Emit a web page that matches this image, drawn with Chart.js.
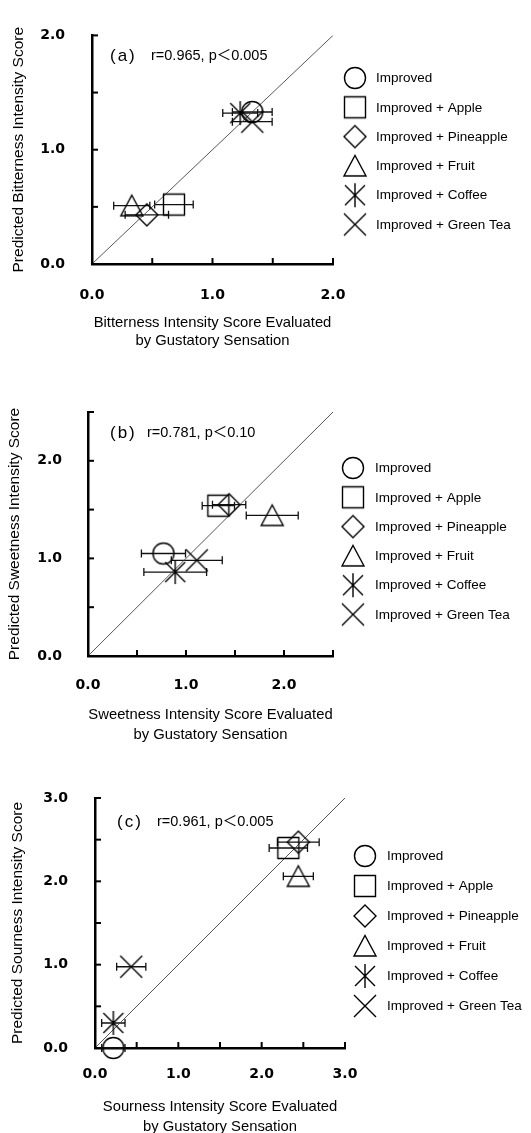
<!DOCTYPE html>
<html>
<head>
<meta charset="utf-8">
<script src="https://cdn.jsdelivr.net/npm/chart.js@4.4.1/dist/chart.umd.min.js"></script>
<style>
  body { margin: 0; background: #fff; width: 531px; height: 1133px; overflow: hidden; position: relative; }
  .panel { position: absolute; left: 0; width: 531px; }
</style>
</head>
<body>
<div class="panel" style="top:0"><canvas id="chartA" width="531" height="360"></canvas></div>
<div class="panel" style="top:365px"><canvas id="chartB" width="531" height="385"></canvas></div>
<div class="panel" style="top:755px"><canvas id="chartC" width="531" height="385"></canvas></div>
<script>
// series shared by all three panels
const seriesNames = ['Improved', 'Improved + Apple', 'Improved + Pineapple', 'Improved + Fruit', 'Improved + Coffee', 'Improved + Green Tea'];
const markerKinds = ['circle', 'square', 'diamond', 'triangle', 'asterisk', 'cross'];

// (a) bitterness: x = gustatory sensation, y = predicted, xErr = SD
const bitterX = [1.33, 0.68, 0.455, 0.33, 1.23, 1.33];
const bitterY = [1.33, 0.52, 0.43, 0.51, 1.32, 1.245];
const bitterErr = [0.165, 0.16, 0.18, 0.15, 0.145, 0.165];

// (b) sweetness
const sweetX = [0.77, 1.33, 1.44, 1.88, 0.89, 1.11];
const sweetY = [1.05, 1.54, 1.55, 1.44, 0.86, 0.98];
const sweetErr = [0.225, 0.165, 0.17, 0.265, 0.32, 0.26];

// (c) sourness
const sourX = [0.22, 2.32, 2.44, 2.44, 0.22, 0.435];
const sourY = [0.0, 2.4, 2.47, 2.06, 0.3, 0.975];
const sourErr = [0.14, 0.23, 0.25, 0.18, 0.14, 0.175];

const axisMax = [2, 2.5, 3];
const tickStep = 0.5;
const panelTags = ['(a)', '(b)', '(c)'];
const statTexts = ['r=0.965, p\uFF1C0.005', 'r=0.781, p\uFF1C0.10', 'r=0.961, p\uFF1C0.005'];
const yTitles = ['Predicted Bitterness Intensity Score', 'Predicted Sweetness Intensity Score', 'Predicted Sourness Intensity Score'];
const xTitles = [
  ['Bitterness Intensity Score Evaluated', 'by Gustatory Sensation'],
  ['Sweetness Intensity Score Evaluated', 'by Gustatory Sensation'],
  ['Sourness Intensity Score Evaluated', 'by Gustatory Sensation']
];

const FONT = "'Liberation Sans', 'Noto Sans CJK JP', sans-serif";
const TICK_FONT = "'DejaVu Sans', sans-serif";

// hollow black markers drawn once and reused for points and legend
function makeMarker(kind) {
  const s = 26, m = s / 2;
  const c = document.createElement('canvas');
  c.width = s; c.height = s;
  const g = c.getContext('2d');
  g.strokeStyle = '#000';
  g.lineWidth = 1.4;
  g.beginPath();
  if (kind === 'circle') {
    g.arc(m, m, 10.5, 0, Math.PI * 2);
  } else if (kind === 'square') {
    g.rect(m - 10.5, m - 10.5, 21, 21);
  } else if (kind === 'diamond') {
    g.moveTo(m, m - 11); g.lineTo(m + 11, m); g.lineTo(m, m + 11); g.lineTo(m - 11, m); g.closePath();
  } else if (kind === 'triangle') {
    g.moveTo(m, m - 10.5); g.lineTo(m + 11, m + 10); g.lineTo(m - 11, m + 10); g.closePath();
  } else if (kind === 'asterisk') {
    g.moveTo(m - 10, m - 10); g.lineTo(m + 10, m + 10);
    g.moveTo(m + 10, m - 10); g.lineTo(m - 10, m + 10);
    g.moveTo(m, m - 12); g.lineTo(m, m + 12);
  } else {
    g.moveTo(m - 11, m - 11); g.lineTo(m + 11, m + 11);
    g.moveTo(m + 11, m - 11); g.lineTo(m - 11, m + 11);
  }
  g.stroke();
  return c;
}
const markers = markerKinds.map(makeMarker);

// hand-tuned layout per panel (canvas-local pixels)
const layouts = [
  { area: { l: 92, r: 333, t: 22, b: 264 }, h: 360, yTitlePad: 10, xTitleLH: 18, xTitlePad: 10, xTickPad: 22.6, yTickPad: 27,
    legend: { mx: 355, tx: 376, y0: 78, gap: 29.3 }, tag: { dx: 18, dy: 21 }, stat: { dx: 59 } },
  { area: { l: 88, r: 333, t: 47, b: 291 }, h: 385, yTitlePad: 6, xTitleLH: 20, xTitlePad: 5, xTickPad: 20.6, yTickPad: 26,
    legend: { mx: 353, tx: 375, y0: 103, gap: 29.3 }, tag: { dx: 22, dy: 21 }, stat: { dx: 59 } },
  { area: { l: 95, r: 345, t: 43, b: 293 }, h: 385, yTitlePad: 8.5, xTitleLH: 20, xTitlePad: 3.3, xTickPad: 18.4, yTickPad: 27,
    legend: { mx: 365, tx: 387, y0: 101, gap: 30 }, tag: { dx: 22, dy: 24 }, stat: { dx: 62 } }
];

const decorations = {
  id: 'decorations',
  beforeDatasetsDraw(chart) {
    // horizontal error bars
    const { ctx, scales: { x, y } } = chart;
    ctx.save();
    ctx.strokeStyle = '#111';
    ctx.lineWidth = 1.3;
    chart.data.datasets.forEach(ds => {
      if (ds.xErr == null) return;
      const p = ds.data[0];
      const py = y.getPixelForValue(p.y);
      const x1 = x.getPixelForValue(p.x - ds.xErr);
      const x2 = x.getPixelForValue(p.x + ds.xErr);
      ctx.beginPath();
      ctx.moveTo(x1, py); ctx.lineTo(x2, py);
      ctx.moveTo(x1, py - 4); ctx.lineTo(x1, py + 4);
      ctx.moveTo(x2, py - 4); ctx.lineTo(x2, py + 4);
      ctx.stroke();
    });
    ctx.restore();
  },
  afterDraw(chart) {
    const { ctx, chartArea: a, scales: { x, y } } = chart;
    const lay = chart.options.plugins.decorations;
    ctx.save();
    // inward tick marks
    ctx.strokeStyle = '#000';
    ctx.lineWidth = 2;
    x.ticks.forEach(t => {
      const px = x.getPixelForValue(t.value);
      ctx.beginPath(); ctx.moveTo(px, a.bottom); ctx.lineTo(px, a.bottom - 6); ctx.stroke();
    });
    y.ticks.forEach(t => {
      const py = y.getPixelForValue(t.value);
      ctx.beginPath(); ctx.moveTo(a.left, py); ctx.lineTo(a.left + 6, py); ctx.stroke();
    });
    // panel tag and statistics
    ctx.fillStyle = '#000';
    ctx.textBaseline = 'middle';
    ctx.textAlign = 'left';
    ctx.font = '17px ' + FONT;
    ctx.letterSpacing = '2px';
    ctx.fillText(lay.tagText, a.left + lay.tag.dx, a.top + lay.tag.dy);
    ctx.letterSpacing = '0px';
    ctx.font = '14.5px ' + FONT;
    ctx.fillText(lay.statText, a.left + lay.stat.dx, a.top + lay.tag.dy);
    // legend
    ctx.font = '13.5px ' + FONT;
    let i = 0;
    chart.data.datasets.forEach(ds => {
      if (ds.xErr == null) return;
      const ly = lay.legend.y0 + i * lay.legend.gap;
      const img = ds.pointStyle;
      ctx.drawImage(img, lay.legend.mx - img.width / 2, ly - img.height / 2);
      ctx.fillText(ds.label, lay.legend.tx, ly + 0.5);
      i++;
    });
    ctx.restore();
  }
};

function makeChart(id, xs, ys, errs, k) {
  const lay = layouts[k];
  const max = axisMax[k];
  const datasets = seriesNames.map((name, i) => ({
    label: name,
    data: [{ x: xs[i], y: ys[i] }],
    xErr: errs[i],
    pointStyle: markers[i],
    pointRadius: 11,
    borderColor: '#000',
    backgroundColor: 'rgba(0,0,0,0)',
    clip: false
  }));
  datasets.push({
    label: 'y = x',
    data: [{ x: 0, y: 0 }, { x: max, y: max }],
    showLine: true,
    borderColor: '#444',
    borderWidth: 0.9,
    pointRadius: 0
  });
  const tickCb = v => (Math.abs(v - Math.round(v)) < 1e-9 ? v.toFixed(1) : '');
  const common = {
    type: 'linear', min: 0, max: max,
    grid: { display: false, drawTicks: false },
    border: { display: true, color: '#000', width: 2.5 }
  };
  return new Chart(document.getElementById(id), {
    type: 'scatter',
    data: { datasets },
    options: {
      responsive: false,
      animation: false,
      events: [],
      layout: { padding: { left: 0, top: lay.area.t, right: 531 - lay.area.r, bottom: 0 } },
      plugins: {
        legend: { display: false },
        tooltip: { enabled: false },
        decorations: Object.assign({ tagText: panelTags[k], statText: statTexts[k] }, lay)
      },
      scales: {
        x: Object.assign({}, common, {
          position: 'bottom',
          ticks: { stepSize: tickStep, callback: tickCb, color: '#000', padding: lay.xTickPad, maxRotation: 0, autoSkip: false,
                   font: { family: TICK_FONT, size: 14, weight: 'bold' } },
          title: { display: true, text: xTitles[k], color: '#000', font: { family: FONT, size: 14.8, lineHeight: lay.xTitleLH + 'px' },
                   padding: { top: 0, bottom: lay.xTitlePad } },
          afterFit: s => { s.height = lay.h - lay.area.b; }
        }),
        y: Object.assign({}, common, {
          position: 'left',
          ticks: { stepSize: tickStep, callback: tickCb, color: '#000', padding: lay.yTickPad, autoSkip: false,
                   font: { family: TICK_FONT, size: 14, weight: 'bold' } },
          title: { display: true, text: yTitles[k], color: '#000', font: { family: FONT, size: 15.5, lineHeight: '18px' },
                   padding: { top: lay.yTitlePad, bottom: 0 } },
          afterFit: s => { s.width = lay.area.l; }
        })
      }
    },
    plugins: [decorations]
  });
}

makeChart('chartA', bitterX, bitterY, bitterErr, 0);
makeChart('chartB', sweetX, sweetY, sweetErr, 1);
makeChart('chartC', sourX, sourY, sourErr, 2);
</script>
</body>
</html>
